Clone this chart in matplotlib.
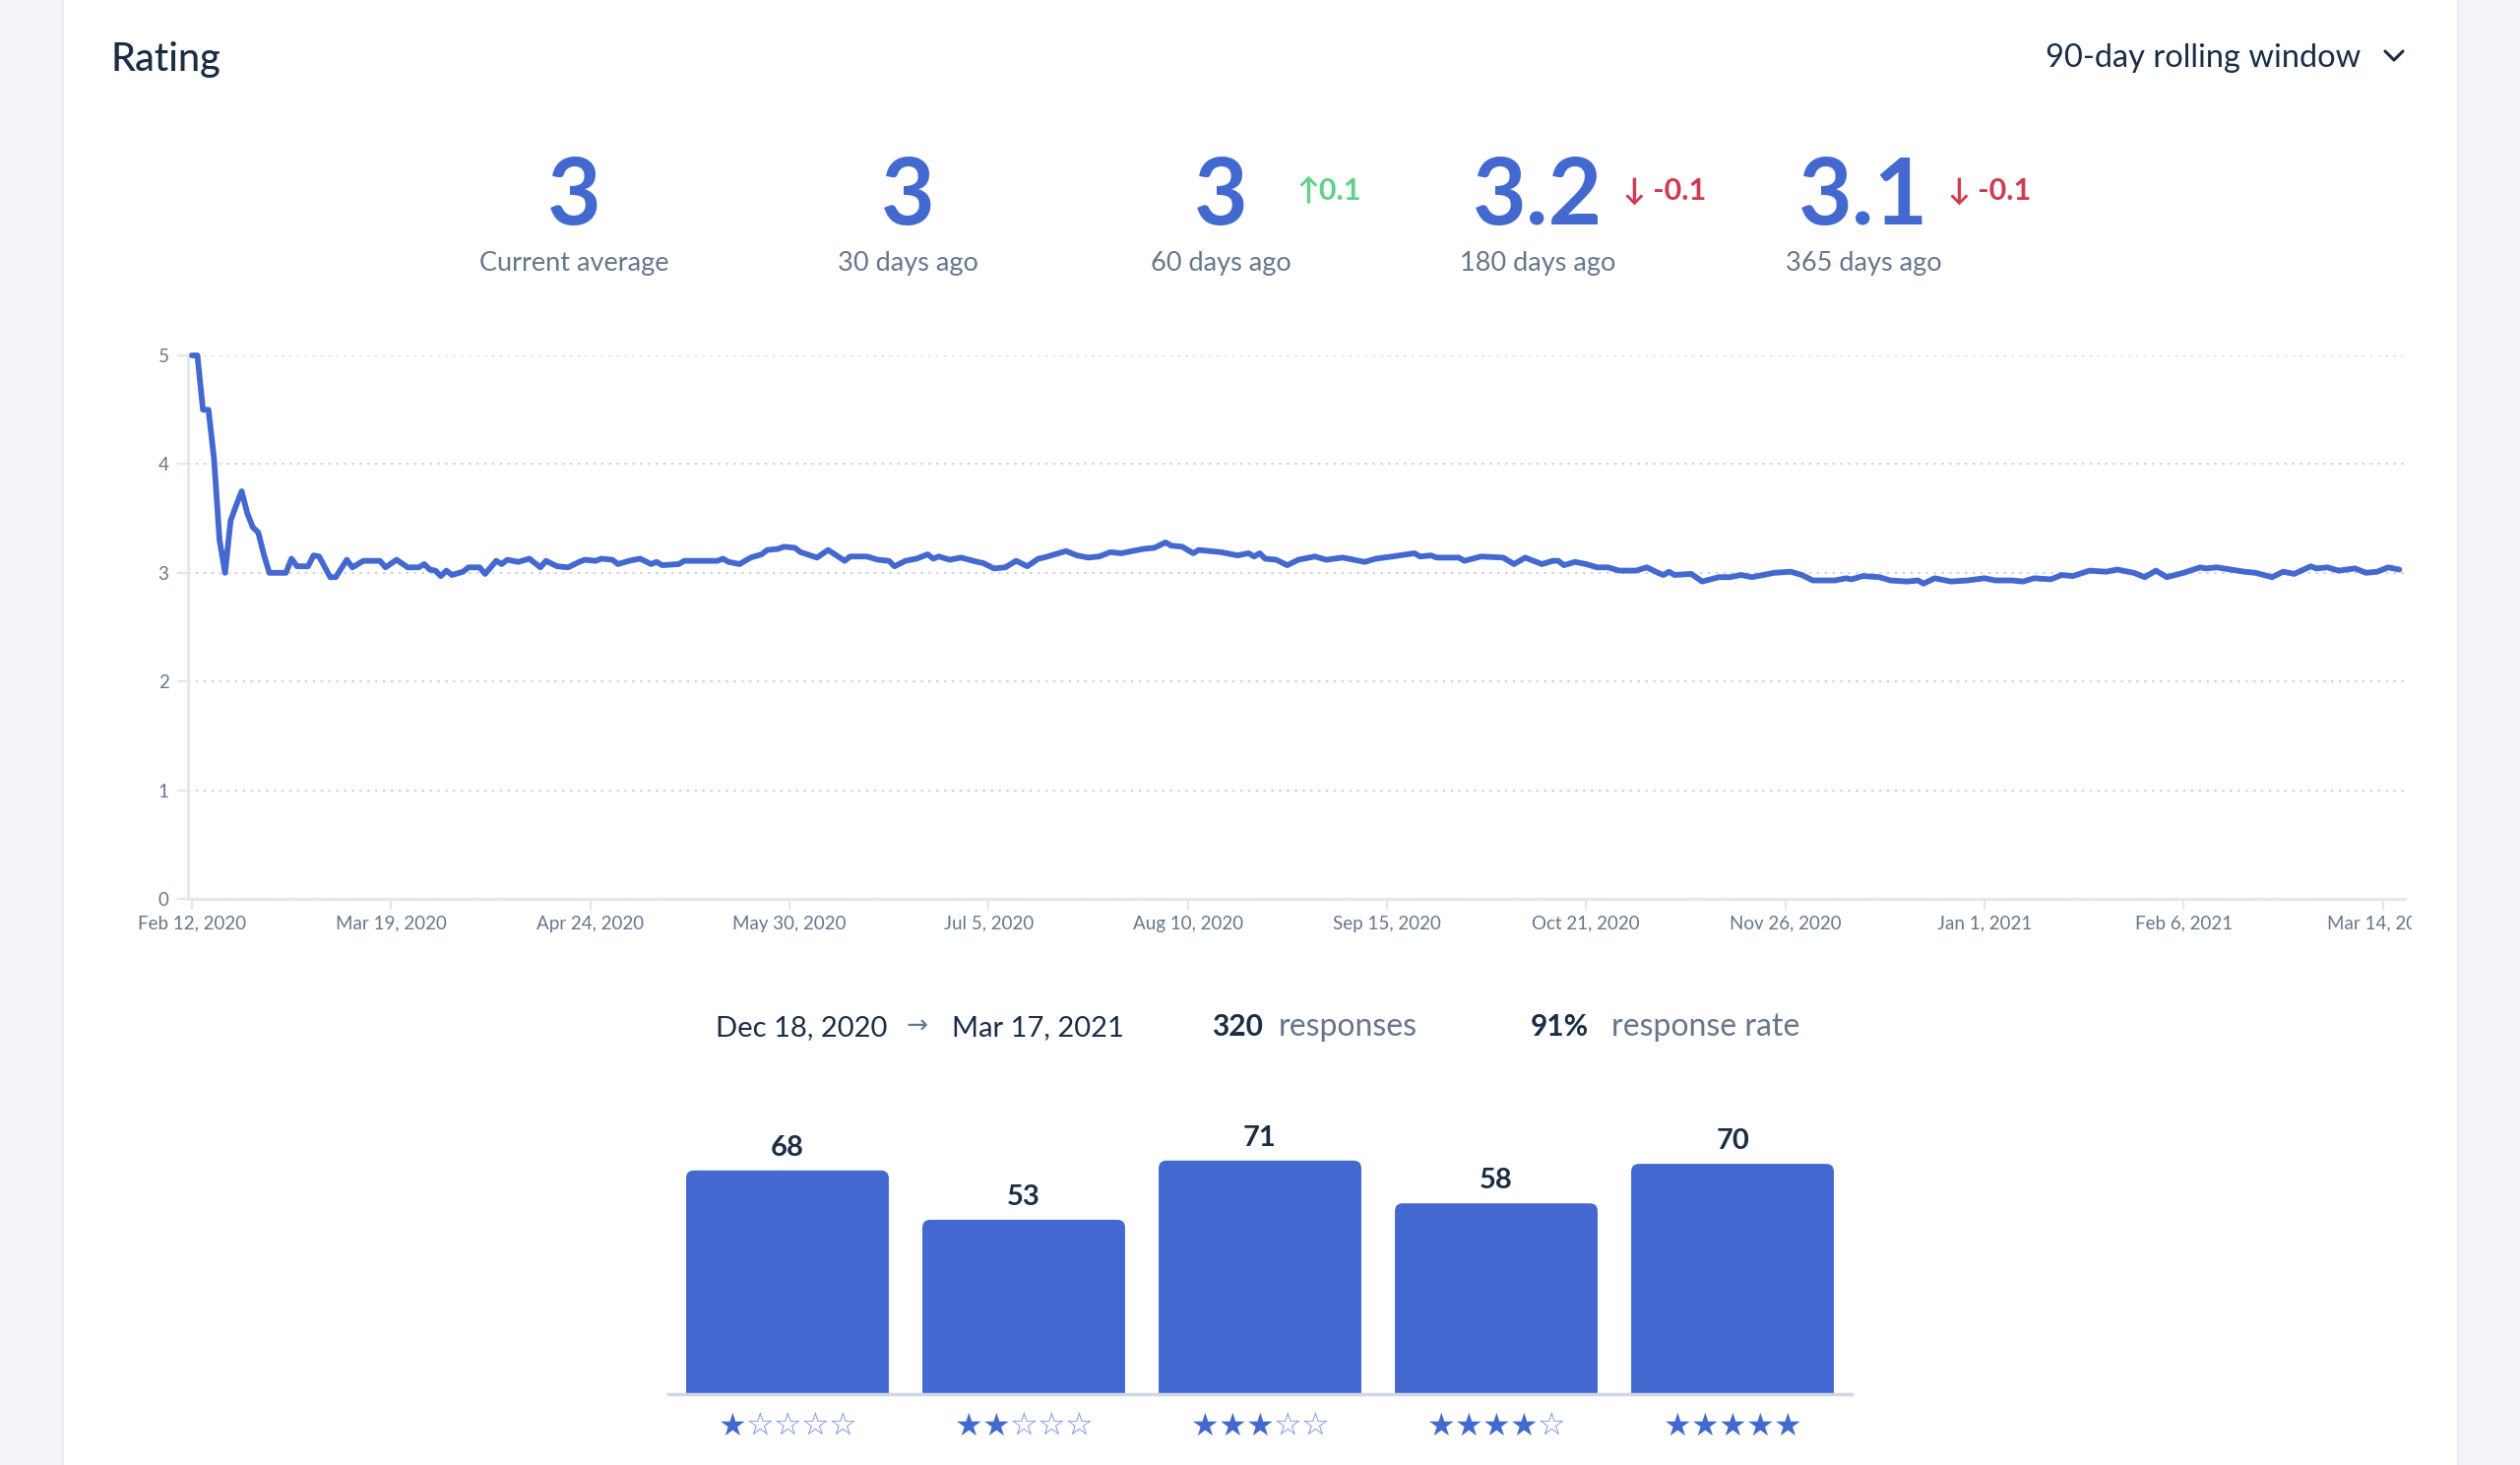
import datetime as dt

import matplotlib
matplotlib.use("Agg")
import matplotlib.pyplot as plt
import matplotlib.dates as mdates
from matplotlib.patches import Rectangle, FancyBboxPatch
from matplotlib.lines import Line2D
from matplotlib.transforms import Bbox, TransformedBbox

plt.rcParams['font.family'] = ['Lato', 'DejaVu Sans']

W, H = 2560, 1488

# --- data ------------------------------------------------------------------
START = dt.date(2020, 2, 12)

day_offsets = [
    0, 1, 2, 3, 4, 5, 6, 7, 8, 9, 10, 11, 12, 13, 14, 17, 18, 19, 21, 22,
    23, 25, 26, 28, 29, 31, 34, 35, 37, 39, 41, 42, 43, 44, 45, 46, 47, 49,
    50, 52, 53, 55, 56, 57, 59, 61, 63, 64, 66, 68, 70, 71, 73, 74, 76, 77,
    79, 81, 83, 84, 85, 88, 89, 92, 95, 96, 97, 99, 101, 103, 104, 106, 107,
    109, 110, 113, 115, 118, 119, 122, 124, 126, 127, 129, 131, 133, 134,
    135, 137, 139, 142, 143, 145, 147, 149, 151, 153, 154, 158, 160, 162,
    164, 166, 168, 170, 172, 174, 176, 177, 179, 181, 182, 186, 189, 191,
    192, 193, 194, 196, 198, 200, 203, 205, 208, 212, 214, 217, 221, 222,
    224, 225, 229, 230, 233, 237, 239, 241, 244, 246, 247, 248, 250, 252,
    254, 256, 258, 261, 263, 265, 266, 267, 268, 271, 273, 276, 278, 280,
    282, 284, 286, 289, 291, 293, 297, 299, 300, 302, 305, 307, 310, 312,
    313, 315, 318, 321, 324, 326, 329, 331, 333, 336, 338, 340, 343, 346,
    348, 351, 353, 355, 357, 360, 363, 364, 366, 371, 373, 376, 378, 380,
    383, 384, 386, 388, 391, 393, 395, 397, 399,
]
rating = [
    5.00, 5.00, 4.50, 4.50, 4.05, 3.30, 3.00, 3.48, 3.62, 3.75, 3.55, 3.42,
    3.37, 3.17, 3.00, 3.00, 3.13, 3.06, 3.06, 3.16, 3.15, 2.96, 2.96, 3.12,
    3.05, 3.11, 3.11, 3.05, 3.12, 3.05, 3.05, 3.08, 3.03, 3.02, 2.97, 3.02,
    2.98, 3.01, 3.05, 3.05, 2.99, 3.11, 3.08, 3.12, 3.10, 3.13, 3.05, 3.11,
    3.06, 3.05, 3.10, 3.12, 3.11, 3.13, 3.12, 3.08, 3.11, 3.13, 3.08, 3.10,
    3.07, 3.08, 3.11, 3.11, 3.11, 3.13, 3.10, 3.08, 3.14, 3.17, 3.21, 3.22,
    3.24, 3.23, 3.19, 3.14, 3.21, 3.11, 3.15, 3.15, 3.12, 3.11, 3.06, 3.11,
    3.13, 3.17, 3.13, 3.15, 3.12, 3.14, 3.10, 3.09, 3.04, 3.05, 3.11, 3.06,
    3.13, 3.14, 3.20, 3.16, 3.14, 3.15, 3.19, 3.18, 3.20, 3.22, 3.23, 3.28,
    3.25, 3.24, 3.18, 3.21, 3.19, 3.16, 3.18, 3.15, 3.18, 3.13, 3.12, 3.07,
    3.12, 3.15, 3.12, 3.14, 3.10, 3.13, 3.15, 3.18, 3.15, 3.16, 3.14, 3.14,
    3.11, 3.15, 3.14, 3.08, 3.14, 3.08, 3.11, 3.11, 3.07, 3.10, 3.08, 3.05,
    3.05, 3.02, 3.02, 3.05, 3.00, 2.98, 3.01, 2.98, 2.99, 2.92, 2.96, 2.96,
    2.98, 2.96, 2.98, 3.00, 3.01, 2.98, 2.93, 2.93, 2.95, 2.94, 2.97, 2.96,
    2.93, 2.92, 2.93, 2.90, 2.95, 2.92, 2.93, 2.95, 2.93, 2.93, 2.92, 2.95,
    2.94, 2.98, 2.97, 3.02, 3.01, 3.03, 3.00, 2.96, 3.02, 2.96, 3.00, 3.05,
    3.04, 3.05, 3.01, 3.00, 2.96, 3.01, 2.99, 3.06, 3.04, 3.05, 3.02, 3.04,
    3.00, 3.01, 3.05, 3.03,
]

x_tick_labels = [
    "Feb 12, 2020", "Mar 19, 2020", "Apr 24, 2020", "May 30, 2020",
    "Jul 5, 2020", "Aug 10, 2020", "Sep 15, 2020", "Oct 21, 2020",
    "Nov 26, 2020", "Jan 1, 2021", "Feb 6, 2021", "Mar 14, 2021",
]
y_ticks = [0, 1, 2, 3, 4, 5]

summary_values = ["3", "3", "3", "3.2", "3.1"]
summary_labels = ["Current average", "30 days ago", "60 days ago",
                  "180 days ago", "365 days ago"]
summary_deltas = ["", "", "↑0.1", "↓ -0.1", "↓ -0.1"]

period_start = "Dec 18, 2020"
period_end = "Mar 17, 2021"
n_responses = "320"
response_rate = "91%"

star_levels = [1, 2, 3, 4, 5]
star_counts = [68, 53, 71, 58, 70]

# --- style ------------------------------------------------------------------
BLUE = "#4369d1"
NAVY = "#1b2d45"
GREY = "#66768a"
LIGHT = "#e2e7ee"
GREEN = "#5fd18b"
RED = "#cf3b50"


def fx(px):
    return px / W


def fy(py):
    return 1 - py / H


fig = plt.figure(figsize=(W / 100, H / 100), dpi=100)
fig.patch.set_facecolor("#f3f5f8")
card = Rectangle((fx(64), -0.01), fx(2497) - fx(64), 1.02,
                 transform=fig.transFigure, facecolor="white",
                 edgecolor="#e6eaf0", lw=1.2, zorder=-10)
fig.add_artist(card)

# header
fig.text(fx(113), fy(72), "Rating", fontsize=28.5, color=NAVY,
         fontweight="medium", va="baseline", ha="left")
fig.text(fx(2398), fy(68), "90-day rolling window", fontsize=23.5,
         color=NAVY, va="baseline", ha="right")
fig.lines.append(Line2D([fx(2423), fx(2432), fx(2441)],
                        [fy(52), fy(61), fy(52)],
                        transform=fig.transFigure, color=NAVY, lw=2.2,
                        solid_capstyle="round", solid_joinstyle="round"))

# summary numbers
centers = [583, 922, 1240, 1562, 1893]
delta_x = [None, None, 1318, 1649, 1979]
for cx, val, lab, dlt, dx in zip(centers, summary_values, summary_labels,
                                 summary_deltas, delta_x):
    fig.text(fx(cx), fy(228), val, fontsize=68, fontweight="bold",
             color=BLUE, ha="center", va="baseline")
    fig.text(fx(cx), fy(275), lab, fontsize=19.5, color=GREY,
             ha="center", va="baseline")
    if dlt:
        col = GREEN if dlt.startswith("↑") else RED
        fig.text(fx(dx), fy(203), dlt, fontsize=22, fontweight="bold",
                 color=col, ha="left", va="baseline")

# line chart
ax = fig.add_axes([fx(191), fy(913), fx(2443) - fx(191), (913 - 361) / H])
ax.patch.set_alpha(0)
dates = [START + dt.timedelta(days=d) for d in day_offsets]
ax.plot(dates, rating, color=BLUE, lw=4.2, solid_joinstyle="round",
        solid_capstyle="round", clip_on=False, zorder=3)
ax.set_xlim(mdates.date2num(START) - 0.7, mdates.date2num(START) + 400)
ax.set_ylim(0, 5)
ax.set_yticks(y_ticks)
ax.set_yticklabels([str(t) for t in y_ticks])
tick_dates = [dt.datetime.strptime(s, "%b %d, %Y") for s in x_tick_labels]
ax.set_xticks(mdates.date2num(tick_dates))
ax.set_xticklabels(x_tick_labels)
ax.yaxis.grid(True, linestyle=(0, (1.2, 2.6)), color="#cdd5df", lw=1.5)
ax.set_axisbelow(True)
for s in ("top", "right"):
    ax.spines[s].set_visible(False)
for s in ("left", "bottom"):
    ax.spines[s].set_color(LIGHT)
    ax.spines[s].set_linewidth(2)
ax.tick_params(axis="both", colors=LIGHT, labelcolor=GREY, labelsize=13.5,
               length=8, width=1.6)
ax.tick_params(axis="y", pad=6)
ax.tick_params(axis="x", pad=4)
clip = TransformedBbox(Bbox.from_extents(0, 0, fx(2450), 1), fig.transFigure)
for lbl in ax.get_xticklabels():
    lbl.set_clip_box(clip)
    lbl.set_clip_on(True)

# period / responses row
fig.text(fx(727), fy(1052), period_start, fontsize=21, color=NAVY,
         va="baseline")
fig.text(fx(920), fy(1050), "→", fontsize=19, color=GREY, va="baseline",
         family=["DejaVu Sans"])
fig.text(fx(967), fy(1052), period_end, fontsize=21, color=NAVY,
         va="baseline")
fig.text(fx(1231), fy(1052), n_responses, fontsize=21.5, color=NAVY,
         fontweight="bold", va="baseline")
fig.text(fx(1299), fy(1052), "responses", fontsize=23, color=GREY,
         va="baseline")
fig.text(fx(1555), fy(1052), response_rate, fontsize=21.5, color=NAVY,
         fontweight="bold", va="baseline")
fig.text(fx(1637), fy(1052), "response rate", fontsize=23, color=GREY,
         va="baseline")

# distribution bars
bx = fig.add_axes([fx(679), fy(1416), fx(1881) - fx(679), (1416 - 1130) / H])
bx.patch.set_alpha(0)
bars = bx.bar(range(len(star_counts)), star_counts, width=0.858, color=BLUE,
              zorder=2)
bx.bar_label(bars, padding=7, fontsize=21, fontweight="bold", color=NAVY)
bx.set_xlim(-0.504, 4.504)
bx.set_ylim(0, 85.6)

# rounded tops: redraw each bar as a rounded box, bottom hidden below y=0
fig.canvas.draw()
px_x = abs(bx.transData.inverted().transform([[0, 0], [1, 0]])[1][0]
           - bx.transData.inverted().transform([[0, 0], [1, 0]])[0][0])
px_y = abs(bx.transData.inverted().transform([[0, 0], [0, 1]])[1][1]
           - bx.transData.inverted().transform([[0, 0], [0, 1]])[0][1])
radius_px = 8
for b in bars:
    b.set_visible(False)
    sink = radius_px * 1.5 * px_y
    bx.add_patch(FancyBboxPatch(
        (b.get_x(), -sink), b.get_width(), b.get_height() + sink,
        boxstyle=f"round,pad=0,rounding_size={radius_px * px_x}",
        mutation_aspect=px_y / px_x, facecolor=BLUE, edgecolor="none",
        zorder=2))

for s in ("top", "right", "left"):
    bx.spines[s].set_visible(False)
bx.spines["bottom"].set_color("#cfd8e3")
bx.spines["bottom"].set_linewidth(2.5)
bx.spines["bottom"].set_zorder(3)
bx.set_xticks([])
bx.set_yticks([])
for i, n in enumerate(star_levels):
    for k in range(5):
        filled = k < n
        bx.annotate("★" if filled else "☆", xy=(i, 0),
                    xycoords=bx.get_xaxis_transform(),
                    xytext=((k - 2) * 20.2, -24), textcoords="offset points",
                    ha="center", va="center", fontsize=23,
                    color=BLUE if filled else "#7490e2",
                    family=["DejaVu Sans"])

fig.savefig("out.png", dpi=100, facecolor=fig.get_facecolor())
